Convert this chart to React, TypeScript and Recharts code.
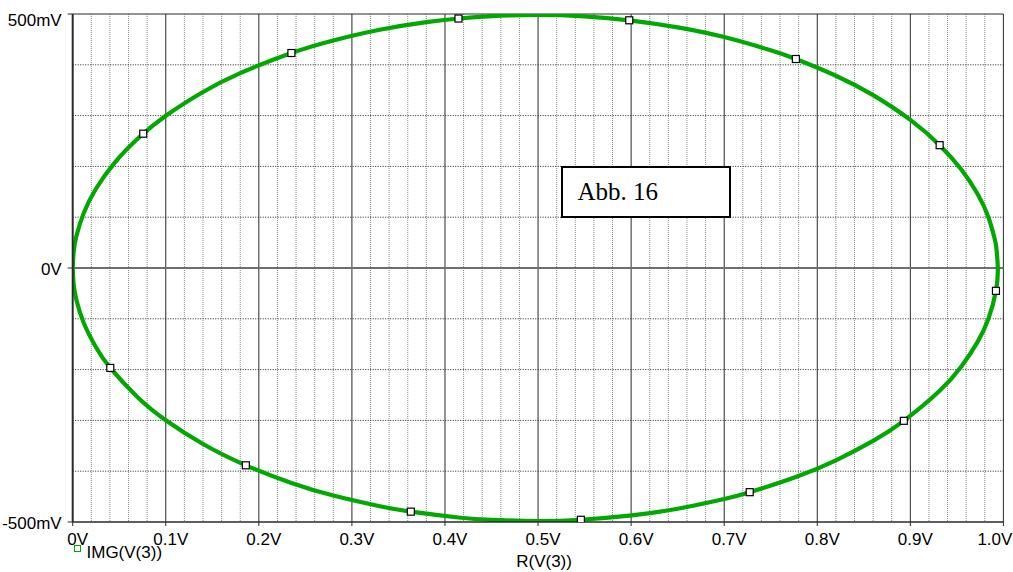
import React from "react";
import { ComposedChart, Line, Scatter, XAxis, YAxis, CartesianGrid } from "recharts";

// Trace IMG(V(3)) vs R(V(3)), in path order
const curveX = [
  0, 0.001, 0.004, 0.012, 0.025, 0.045, 0.07, 0.1, 0.14, 0.18, 0.235, 0.28, 0.33, 0.38, 0.4145, 0.45,
  0.5, 0.55, 0.598, 0.65, 0.7, 0.75, 0.777, 0.82, 0.86, 0.9, 0.9315, 0.955, 0.972, 0.984, 0.991, 0.9925,
  0.994, 0.992, 0.984, 0.972, 0.955, 0.9315, 0.893, 0.86, 0.82, 0.777, 0.7274, 0.7, 0.65, 0.598, 0.546,
  0.5, 0.45, 0.4145, 0.3633, 0.33, 0.28, 0.235, 0.186, 0.14, 0.1, 0.07, 0.0404, 0.025, 0.012, 0.004, 0.001, 0,
];
const curveY = [
  0, 0.0316, 0.0631, 0.1088, 0.156, 0.2071, 0.2548, 0.2996, 0.3465, 0.3835, 0.4232, 0.448, 0.469, 0.484, 0.4911, 0.4958,
  0.498, 0.4952, 0.4876, 0.4738, 0.4546, 0.4286, 0.4114, 0.3785, 0.3402, 0.2915, 0.2418, 0.1934, 0.1465, 0.0994, 0.0546, 0.0387,
  0, -0.045, -0.0994, -0.1465, -0.1934, -0.2418, -0.3008, -0.3402, -0.3785, -0.4114, -0.4413, -0.4546, -0.4738, -0.4876, -0.4956,
  -0.498, -0.4958, -0.4911, -0.4796, -0.469, -0.448, -0.4232, -0.3884, -0.3465, -0.2996, -0.2548, -0.1967, -0.156, -0.1088, -0.0631, -0.0316, 0,
];

// Square symbol markers on the trace
const markerX = [0.0758, 0.235, 0.4145, 0.598, 0.777, 0.9315, 0.992, 0.893, 0.7274, 0.546, 0.3633, 0.186, 0.0404];
const markerY = [0.2644, 0.4232, 0.4911, 0.4876, 0.4114, 0.2418, -0.045, -0.3008, -0.4413, -0.4956, -0.4796, -0.3884, -0.1967];

const xTicks = [0, 0.1, 0.2, 0.3, 0.4, 0.5, 0.6, 0.7, 0.8, 0.9, 1.0];
const xTickLabels = ["0V", "0.1V", "0.2V", "0.3V", "0.4V", "0.5V", "0.6V", "0.7V", "0.8V", "0.9V", "1.0V"];
const yTicks = [-0.5, 0, 0.5];
const yTickLabels = ["-500mV", "0V", "500mV"];

const gridMajorX = [0.1, 0.2, 0.3, 0.4, 0.5, 0.6, 0.7, 0.8, 0.9, 1.0];
const gridMinorX = [
  0.02, 0.04, 0.06, 0.08, 0.12, 0.14, 0.16, 0.18, 0.22, 0.24, 0.26, 0.28, 0.32, 0.34, 0.36, 0.38,
  0.42, 0.44, 0.46, 0.48, 0.52, 0.54, 0.56, 0.58, 0.62, 0.64, 0.66, 0.68, 0.72, 0.74, 0.76, 0.78,
  0.82, 0.84, 0.86, 0.88, 0.92, 0.94, 0.96, 0.98,
];
const gridDottedY = [-0.4, -0.3, -0.2, -0.1, 0.1, 0.2, 0.3, 0.4];
const gridSolidY = [0.5];
const gridZeroY = [0];

const curveData = curveX.map((x, i) => ({ x, y: curveY[i] }));
const markerData = markerX.map((x, i) => ({ x, y: markerY[i] }));

const FONT = "'Liberation Sans', Arial, sans-serif";

const XTick = (props: any) => {
  const { x, y, payload } = props;
  const idx = xTicks.indexOf(payload.value);
  const last = idx === xTicks.length - 1;
  return (
    <text
      x={last ? x + 9 : x + 5}
      y={y}
      dy={19}
      textAnchor={last ? "end" : "middle"}
      fontSize={17}
      fontFamily={FONT}
      fill="#000"
    >
      {idx >= 0 ? xTickLabels[idx] : ""}
    </text>
  );
};

const YTick = (props: any) => {
  const { x, y, payload } = props;
  const idx = yTicks.indexOf(payload.value);
  const shift = payload.value === 0.5 ? 12 : 7;
  return (
    <text x={x} y={y} dy={shift} textAnchor="end" fontSize={17} fontFamily={FONT} fill="#000">
      {idx >= 0 ? yTickLabels[idx] : ""}
    </text>
  );
};

const MarkerShape = (props: any) => {
  const { cx, cy } = props;
  return <rect x={cx - 3.5} y={cy - 3.5} width={7} height={7} fill="#fff" stroke="#000" strokeWidth={1.2} />;
};

export default function App() {
  return (
    <div style={{ position: "absolute", left: 0, top: 0, width: 1013, height: 572, background: "#fff" }}>
      <ComposedChart width={1013} height={572} margin={{ top: 14, right: 9.6, bottom: 0, left: 0 }}>
        <CartesianGrid
          horizontal={false}
          verticalValues={gridMinorX}
          stroke="#8a8a8a"
          strokeDasharray="1 1"
          fill="none"
        />
        <CartesianGrid
          vertical={false}
          horizontalValues={gridDottedY}
          stroke="#222"
          strokeDasharray="1 1.5"
          fill="none"
        />
        <CartesianGrid horizontal={false} verticalValues={gridMajorX} stroke="#2a2a2a" fill="none" />
        <CartesianGrid vertical={false} horizontalValues={gridSolidY} stroke="#2a2a2a" fill="none" />
        <CartesianGrid vertical={false} horizontalValues={gridZeroY} stroke="#6e6e6e" strokeWidth={2} fill="none" />
        <XAxis
          type="number"
          dataKey="x"
          domain={[0, 1]}
          ticks={xTicks}
          interval={0}
          allowDataOverflow
          height={50}
          tickSize={4}
          tickMargin={0}
          tick={<XTick />}
          axisLine={{ stroke: "#2a2a2a", strokeWidth: 1.5 }}
          tickLine={{ stroke: "#2a2a2a" }}
          label={{ value: "R(V(3))", position: "insideBottom", offset: 5, dx: 6, fontSize: 17, fontFamily: FONT, fill: "#000" }}
        />
        <YAxis
          type="number"
          dataKey="y"
          domain={[-0.5, 0.5]}
          ticks={yTicks}
          interval={0}
          allowDataOverflow
          width={72.7}
          tickSize={5}
          tickMargin={6}
          tick={<YTick />}
          axisLine={{ stroke: "#2a2a2a", strokeWidth: 2 }}
          tickLine={{ stroke: "#2a2a2a" }}
        />
        <Line
          data={curveData}
          dataKey="y"
          type="natural"
          stroke="#00a800"
          strokeWidth={4.2}
          dot={false}
          activeDot={false}
          isAnimationActive={false}
        />
        <Scatter data={markerData} dataKey="y" shape={<MarkerShape />} isAnimationActive={false} />
      </ComposedChart>

      <div
        style={{
          position: "absolute",
          left: 74,
          top: 545,
          width: 5,
          height: 5,
          border: "1px solid #00a800",
          background: "#fff",
        }}
      />
      <div
        style={{
          position: "absolute",
          left: 86.5,
          top: 543,
          fontSize: 17,
          fontFamily: FONT,
          lineHeight: "20px",
          color: "#000",
          whiteSpace: "nowrap",
        }}
      >
        IMG(V(3))
      </div>

      <div
        style={{
          position: "absolute",
          left: 560.5,
          top: 166,
          width: 151,
          height: 47.5,
          border: "2px solid #000",
          background: "#fff",
          fontFamily: "'Liberation Serif', 'Times New Roman', serif",
          fontSize: 25,
          lineHeight: "47.5px",
          color: "#000",
          paddingLeft: 15,
          boxSizing: "content-box",
          whiteSpace: "nowrap",
        }}
      >
        Abb. 16
      </div>
    </div>
  );
}
